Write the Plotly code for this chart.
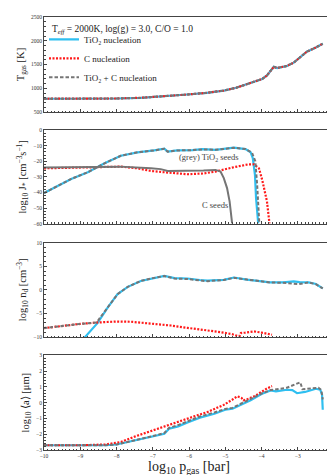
import plotly.graph_objects as go
from plotly.subplots import make_subplots

# ---------------- data ----------------
# Panel 1: gas temperature
p_T = [-10, -9, -8, -7.33, -6.5, -6.04, -5.5, -5.04, -4.7, -4.4, -4.15, -3.98, -3.85, -3.66, -3.57, -3.3, -3.11, -2.95, -2.75, -2.5, -2.31]
T_gas = [780, 780, 785, 800, 835, 869, 905, 952, 1010, 1090, 1150, 1196, 1270, 1452, 1425, 1470, 1540, 1640, 1770, 1860, 1937]

# Panel 2: nucleation rates
p_J_tio2 = [-10, -9.62, -9.25, -8.79, -8.33, -7.88, -7.42, -6.96, -6.68, -6.59, -6.32, -5.9, -5.63, -5.27, -4.95, -4.76, -4.44, -4.3, -4.24, -4.18, -4.15, -4.09]
J_tio2 = [-40.4, -35.7, -31.3, -27, -21.3, -16.4, -14.2, -13, -11.9, -13.8, -13, -12.8, -12.1, -12.6, -11.8, -11.2, -12.1, -14.2, -18, -28.7, -43.6, -60]

p_J_c = [-10, -9.25, -8.33, -7.88, -7.42, -7.05, -6.68, -6.32, -6.04, -5.6, -5.27, -4.81, -4.35, -4.21, -4.07, -3.98, -3.89, -3.85, -3.78]
J_c = [-24.5, -24, -23.4, -23.4, -24.5, -26.2, -27, -28, -28.3, -27.8, -26.6, -24, -21.9, -21.9, -24.5, -32, -41.5, -45.7, -60]

p_J_mix_tio2 = [-10, -9.62, -9.25, -8.79, -8.33, -7.88, -7.42, -6.96, -6.68, -6.59, -6.32, -5.9, -5.63, -5.27, -4.95, -4.76, -4.44, -4.26, -4.17, -4.12, -4.06]
J_mix_tio2 = [-40.4, -35.7, -31.3, -27, -21.3, -16.4, -14.2, -13, -11.9, -13.8, -13, -12.8, -12.3, -12.6, -11.8, -11.3, -12.1, -14.5, -20, -35, -60]

p_J_mix_c = [-10, -9.25, -8.33, -7.88, -7.05, -6.78, -6.59, -6.04, -5.6, -5.27, -5.13, -5.04, -4.95, -4.88, -4.81]
J_mix_c = [-24, -23.8, -23.4, -23.4, -24.5, -25, -26.2, -26.2, -25.9, -25.5, -26.6, -30.8, -37.2, -45.7, -60]

# Panel 3: dust number density
p_nd_tio2 = [-9.0, -8.87, -8.52, -8.24, -7.97, -7.69, -7.33, -7.0, -6.68, -6.4, -6.04, -5.7, -5.49, -5.04, -4.76, -4.4, -4.0, -3.76, -3.4, -3.11, -2.95, -2.7, -2.5, -2.31]
nd_tio2 = [-11.5, -10, -7, -3.7, -0.9, 0.65, 1.9, 2.5, 2.95, 2.5, 2.42, 2.1, 1.95, 2.13, 2.63, 2.2, 1.85, 1.58, 1.6, 1.79, 1.65, 1.58, 1.25, 0.31]

p_nd_c = [-10, -9.5, -9, -8.5, -8.0, -7.6, -7.0, -6.5, -6.04, -5.5, -5.13, -4.8, -4.67, -4.6, -4.57, -4.45, -4.21, -4.0, -3.71]
nd_c = [-8.1, -7.6, -7.2, -6.9, -6.7, -6.75, -7.1, -7.55, -8.05, -8.5, -8.95, -9.4, -9.75, -9.75, -9.15, -9.05, -8.8, -9.05, -9.5]

p_nd_mix = [-10, -9.5, -9, -8.55, -8.24, -7.97, -7.69, -7.33, -7.0, -6.68, -6.4, -6.04, -5.7, -5.49, -5.04, -4.76, -4.4, -4.0, -3.76, -3.4, -3.11, -2.98, -2.7, -2.5, -2.31]
nd_mix = [-8.1, -7.6, -7.2, -6.9, -3.7, -0.9, 0.65, 1.9, 2.5, 2.95, 2.4, 2.3, 2.0, 1.85, 2.1, 2.55, 2.2, 1.85, 1.58, 1.5, 1.4, 1.22, 1.58, 1.2, 0.31]

# Panel 4: mean grain size
p_a_tio2 = [-10, -9, -8.3, -8.0, -7.5, -7.0, -6.68, -6.55, -6.3, -6.04, -5.7, -5.3, -5.0, -4.8, -4.6, -4.3, -4.0, -3.75, -3.6, -3.3, -3.15, -3.02, -2.8, -2.5, -2.38, -2.33, -2.31]
a_tio2 = [-2.7, -2.7, -2.7, -2.65, -2.4, -2.15, -1.97, -1.65, -1.5, -1.25, -0.95, -0.7, -0.45, -0.38, -0.15, 0.15, 0.55, 0.78, 0.72, 0.82, 0.8, 0.6, 0.68, 0.88, 0.82, 0.5, -0.45]

p_a_c = [-10, -9, -8.3, -8.0, -7.88, -7.5, -7.0, -6.87, -6.5, -6.0, -5.86, -5.5, -5.04, -4.8, -4.67, -4.6, -4.55, -4.5, -4.44, -4.2, -4.0, -3.85, -3.71]
a_c = [-2.7, -2.7, -2.65, -2.55, -2.5, -2.15, -1.75, -1.66, -1.4, -0.98, -0.87, -0.6, -0.14, 0.2, 0.4, 0.35, 0.3, 0.15, 0.18, 0.4, 0.7, 0.9, 1.05]

p_a_mix = [-10, -9, -8.3, -8.0, -7.5, -7.0, -6.68, -6.55, -6.3, -6.04, -5.7, -5.3, -5.0, -4.8, -4.6, -4.3, -4.0, -3.75, -3.66, -3.3, -3.0, -2.93, -2.87, -2.6, -2.43, -2.35, -2.31]
a_mix = [-2.7, -2.7, -2.7, -2.65, -2.4, -2.12, -1.92, -1.6, -1.42, -1.18, -0.88, -0.62, -0.4, -0.33, -0.1, 0.2, 0.58, 0.8, 0.82, 0.95, 1.2, 1.29, 0.85, 0.9, 0.95, 0.8, 0.2]

x_ticks = [-10, -9, -8, -7, -6, -5, -4, -3, -2]

# ---------------- figure ----------------
CYAN = "#2fbff0"
RED = "#ff1a1a"
GREY = "#757575"
FONT = "Liberation Serif"
DOT = "2px,1.5px"
DASH = "3.5px,2px"

fig = make_subplots(rows=4, cols=1, shared_xaxes=True)

def cyan(x, y, row, show=False):
    fig.add_trace(go.Scatter(x=x, y=y, mode="lines", line=dict(color=CYAN, width=2.2),
                             name="TiO₂ nucleation", legendgroup="a", showlegend=show), row=row, col=1)

def red(x, y, row, show=False):
    fig.add_trace(go.Scatter(x=x, y=y, mode="lines", line=dict(color=RED, width=2.2, dash=DOT),
                             name="C nucleation", legendgroup="b", showlegend=show), row=row, col=1)

def grey(x, y, row, show=False, dash=DASH):
    fig.add_trace(go.Scatter(x=x, y=y, mode="lines", line=dict(color=GREY, width=2.0, dash=dash),
                             name="TiO₂ + C nucleation", legendgroup="c", showlegend=show), row=row, col=1)

# panel 1
cyan(p_T, T_gas, 1, True)
red(p_T, T_gas, 1, True)
grey(p_T, T_gas, 1, True)
# panel 2
cyan(p_J_tio2, J_tio2, 2)
red(p_J_c, J_c, 2)
grey(p_J_mix_tio2, J_mix_tio2, 2)
grey(p_J_mix_c, J_mix_c, 2, dash="solid")
# panel 3
cyan(p_nd_tio2, nd_tio2, 3)
red(p_nd_c, nd_c, 3)
grey(p_nd_mix, nd_mix, 3)
# panel 4
cyan(p_a_tio2, a_tio2, 4)
red(p_a_c, a_c, 4)
grey(p_a_mix, a_mix, 4)

W, H = 335, 475
top_px, bot_px = 6, 442
ph = bot_px - top_px
panels = [(5.7, 101.7), (120, 214), (233.3, 328.3), (346.7, 442.3)]

def dom(t, b):
    return [max(0, (bot_px - b) / ph), min(1, (bot_px - t) / ph)]

axis_common = dict(showline=True, linecolor="#444", linewidth=1, mirror=True,
                   ticks="inside", ticklen=3, tickwidth=0.8, tickcolor="#444",
                   showgrid=False, zeroline=False,
                   tickfont=dict(family=FONT, size=5.5, color="#333"))

yranges = [[500, 2500], [-60, 0], [-10, 10], [-3, 3]]
ydt = [500, 10, 5, 1]
yminor = [100, 2, 1, 0.2]
ytitles = ["T<sub>gas</sub> [K]",
           "log<sub>10</sub> J<sub>*</sub> [cm<sup>−3</sup>s<sup>−1</sup>]",
           "log<sub>10</sub> n<sub>d</sub> [cm<sup>−3</sup>]",
           "log<sub>10</sub> ⟨a⟩ [μm]"]

for i in range(4):
    t, b = panels[i]
    fig.update_yaxes(row=i + 1, col=1, domain=dom(t, b), range=yranges[i], dtick=ydt[i],
                     tickformat="d", exponentformat="none",
                     minor=dict(ticks="inside", ticklen=1.5, dtick=yminor[i], tickcolor="#444"),
                     title=dict(text=ytitles[i], font=dict(family=FONT, size=10.5, color="#222"), standoff=4),
                     **axis_common)
    fig.update_xaxes(row=i + 1, col=1, range=[-10, -2], tickvals=x_ticks,
                     ticktext=[str(v).replace("-", "−") for v in x_ticks],
                     showticklabels=(i == 3),
                     minor=dict(ticks="inside", ticklen=1.5, dtick=0.1, tick0=0, tickcolor="#444"),
                     **axis_common)

fig.update_xaxes(row=4, col=1, title=dict(text="log<sub>10</sub> p<sub>gas</sub> [bar]",
                                          font=dict(family=FONT, size=14, color="#222"), standoff=0))

# annotations
fig.add_annotation(xref="paper", yref="paper", x=0.02, y=dom(*panels[0])[1] - 0.012,
                   xanchor="left", yanchor="top", showarrow=False,
                   text="T<sub><i>eff</i></sub> = 2000K, log(g) = 3.0, C/O = 1.0",
                   font=dict(family=FONT, size=9.5, color="#222"))
fig.add_annotation(x=-5.44, y=-17.6, xref="x2", yref="y2", showarrow=False,
                   text="(grey) TiO<sub>2</sub> seeds", font=dict(family=FONT, size=8.5, color="#444"))
fig.add_annotation(x=-5.27, y=-48, xref="x2", yref="y2", showarrow=False,
                   text="C seeds", font=dict(family=FONT, size=8.5, color="#444"))

fig.update_layout(
    width=W, height=H,
    margin=dict(l=36, r=8, t=top_px, b=H - bot_px),
    paper_bgcolor="white", plot_bgcolor="white",
    showlegend=True,
    legend=dict(x=0.0, y=0.982, xanchor="left", yanchor="top",
                bgcolor="rgba(0,0,0,0)", font=dict(family=FONT, size=9, color="#222"),
                tracegroupgap=0, itemwidth=30),
    font=dict(family=FONT),
)

fig.write_html("out.html")
